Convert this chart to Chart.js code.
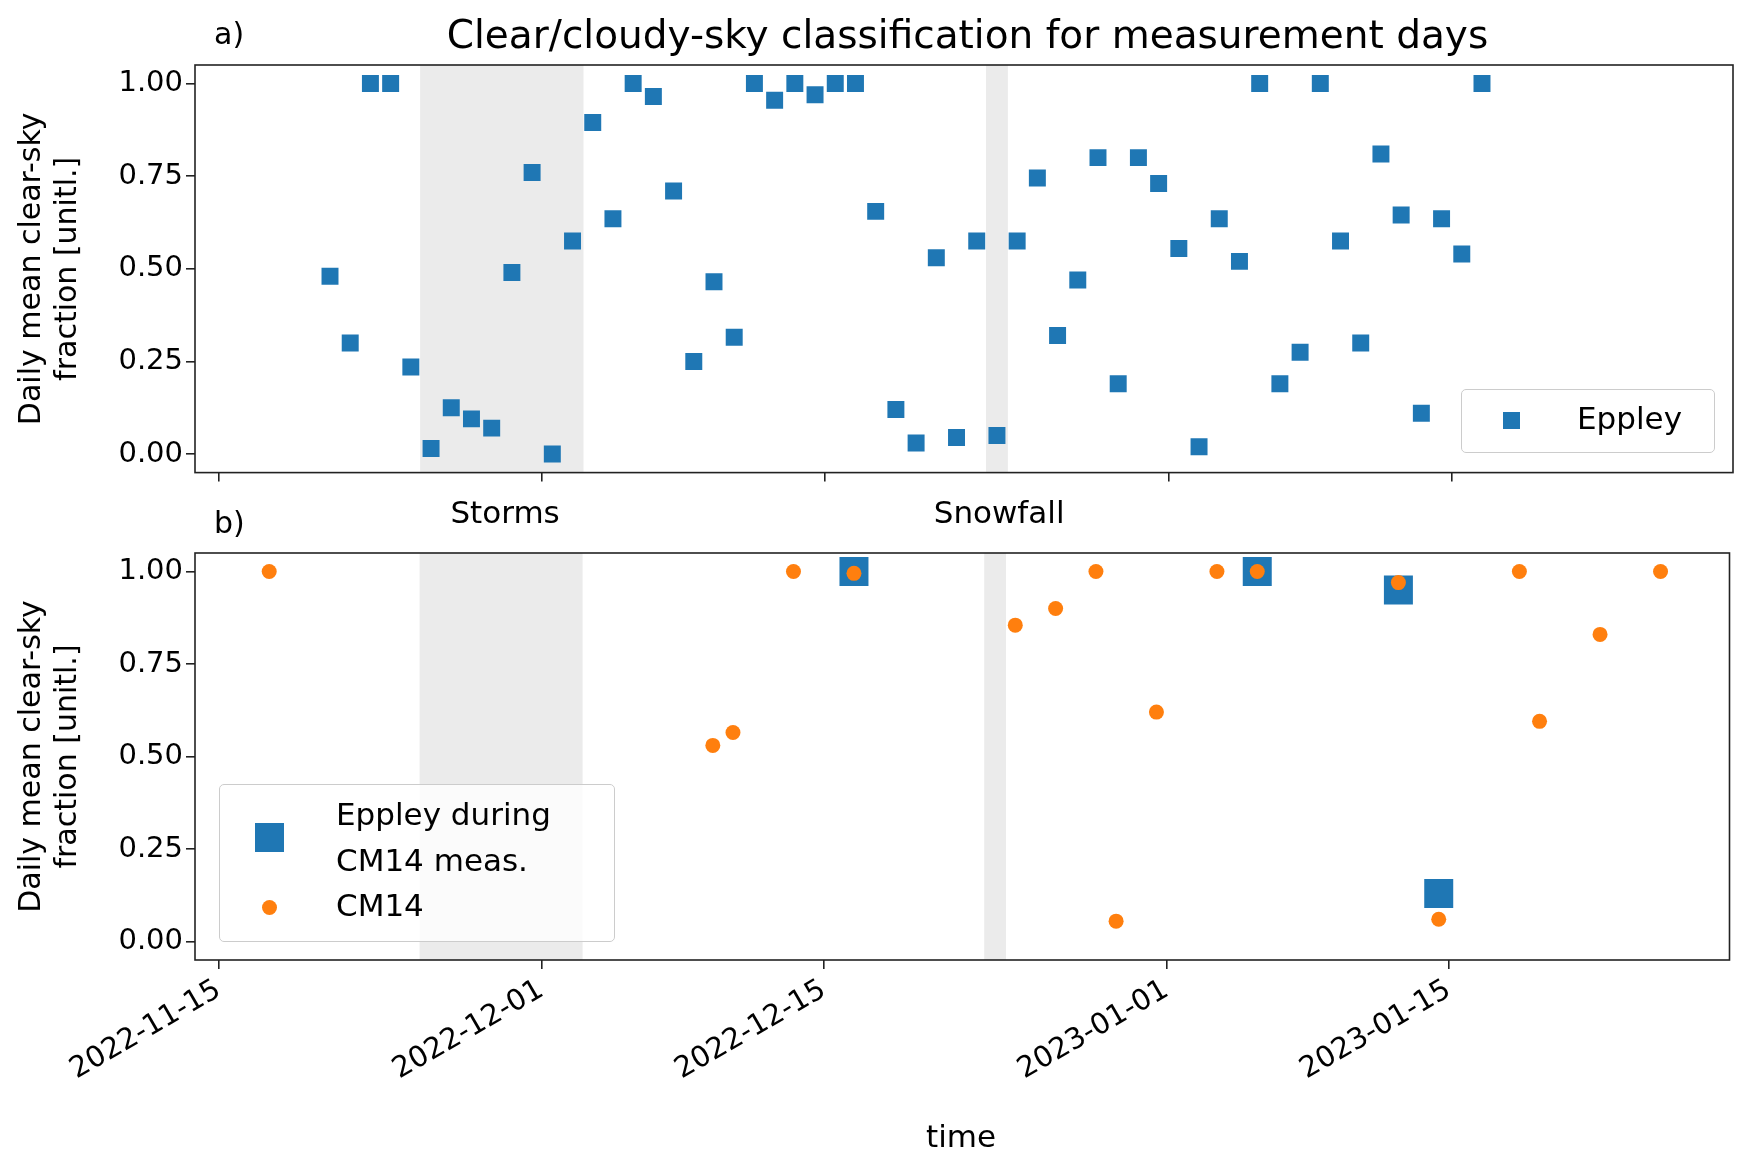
<!DOCTYPE html>
<html><head><meta charset="utf-8">
<script src="https://cdn.jsdelivr.net/npm/chart.js@4"></script>
<style>
body{margin:0;background:#fff;width:1750px;height:1175px;position:relative;font-family:"DejaVu Sans",sans-serif;overflow:hidden}
canvas{position:absolute;left:0}
.t{position:absolute;color:#000;white-space:nowrap}
</style></head><body>
<canvas id="c1" width="1750" height="493" style="top:0"></canvas>
<canvas id="c2" width="1750" height="695" style="top:480px"></canvas>
<div class="t" style="left:214px;top:16px;font-size:30px">a)</div>
<div class="t" style="left:214px;top:505px;font-size:30px">b)</div>
<div class="t" style="left:0;width:1935px;text-align:center;top:12px;font-size:39px">Clear/cloudy-sky classification for measurement days</div>
<div class="t" style="left:926px;top:1118px;font-size:31px">time</div>
<div style="position:absolute;left:1461px;top:389px;width:252px;height:62px;border:1px solid #ccc;border-radius:5px;background:rgba(255,255,255,0.8)"></div>
<div style="position:absolute;left:1503px;top:412px;width:17px;height:17px;background:#1f77b4"></div>
<div class="t" style="left:1577px;top:400px;font-size:31px">Eppley</div>
<div style="position:absolute;left:219px;top:784px;width:394px;height:156px;border:1px solid #ccc;border-radius:5px;background:rgba(255,255,255,0.8)"></div>
<div style="position:absolute;left:255px;top:823px;width:29px;height:29px;background:#1f77b4"></div>
<div class="t" style="left:336px;top:791px;font-size:31px;line-height:46px">Eppley during<br>CM14 meas.</div>
<div style="position:absolute;left:262px;top:900px;width:15px;height:15px;border-radius:50%;background:#ff7f0e"></div>
<div class="t" style="left:336px;top:887px;font-size:31px">CM14</div>
<script>
// days relative to 2022-11-15 00:00
const epoch = Date.UTC(2022,10,15);
const eppleyDates = ["2022-11-20","2022-11-21","2022-11-22","2022-11-23","2022-11-24","2022-11-25","2022-11-26","2022-11-27","2022-11-28","2022-11-29","2022-11-30","2022-12-01","2022-12-02","2022-12-03","2022-12-04","2022-12-05","2022-12-06","2022-12-07","2022-12-08","2022-12-09","2022-12-10","2022-12-11","2022-12-12","2022-12-13","2022-12-14","2022-12-15","2022-12-16","2022-12-17","2022-12-18","2022-12-19","2022-12-20","2022-12-21","2022-12-22","2022-12-23","2022-12-24","2022-12-25","2022-12-26","2022-12-27","2022-12-28","2022-12-29","2022-12-30","2022-12-31","2023-01-01","2023-01-02","2023-01-03","2023-01-04","2023-01-05","2023-01-06","2023-01-07","2023-01-08","2023-01-09","2023-01-10","2023-01-11","2023-01-12","2023-01-13","2023-01-14","2023-01-15","2023-01-16"];
const eppleyValues = [0.48,0.30,1.00,1.00,0.235,0.015,0.125,0.095,0.07,0.49,0.76,0.0,0.575,0.895,0.635,1.0,0.965,0.71,0.25,0.465,0.315,1.0,0.955,1.0,0.97,1.0,1.0,0.655,0.12,0.03,0.53,0.045,0.575,0.05,0.575,0.745,0.32,0.47,0.80,0.19,0.80,0.73,0.555,0.02,0.635,0.52,1.0,0.19,0.275,1.0,0.575,0.30,0.81,0.645,0.11,0.635,0.54,1.0];
const cm14Dates = ["2022-11-17","2022-12-09","2022-12-10","2022-12-13","2022-12-16","2022-12-24","2022-12-26","2022-12-28","2022-12-29","2022-12-31","2023-01-03","2023-01-05","2023-01-12","2023-01-14","2023-01-18","2023-01-19","2023-01-22","2023-01-25"];
const cm14Values = [1.0,0.53,0.565,1.0,0.995,0.855,0.90,1.0,0.055,0.62,1.0,1.0,0.97,0.06,1.0,0.595,0.83,1.0];
const eppleyCmDates = ["2022-12-16","2023-01-05","2023-01-12","2023-01-14"];
const eppleyCmValues = [1.0,1.0,0.95,0.13];
const xTickDates = ["2022-11-15","2022-12-01","2022-12-15","2023-01-01","2023-01-15"];
const yTicks = [0,0.25,0.5,0.75,1.0];
const spans = [{label:"Storms",from:"2022-11-24T23:00",to:"2022-12-03T01:00"},{label:"Snowfall",from:"2022-12-22T23:00",to:"2022-12-24T01:00"}];

const dayOf = s => (Date.parse(s.length===10 ? s+"T00:00Z" : s+"Z") - epoch)/86400000;
const noon = s => dayOf(s)+0.5;
const pts = (d,v) => d.map((s,i)=>({x:noon(s),y:v[i]}));
const xTicks = xTickDates.map(dayOf);
const fmt = v => { const i = xTicks.findIndex(t=>Math.abs(t-v)<1e-6); return i>=0 ? xTickDates[i] : ''; };

const font = {family:"DejaVu Sans", size:29};
const frame = {id:'frame', beforeDatasetsDraw(c,a,o){
  const {ctx,chartArea:ca,scales:{x}} = c;
  ctx.save(); ctx.fillStyle='#ebebeb';
  spans.forEach(s=>{const x0=x.getPixelForValue(dayOf(s.from)),x1=x.getPixelForValue(dayOf(s.to));ctx.fillRect(x0,ca.top,x1-x0,ca.bottom-ca.top);
    if(o.labels){ctx.fillStyle='#000';ctx.font='31px "DejaVu Sans"';ctx.textAlign='center';ctx.textBaseline='middle';ctx.fillText(s.label,(x0+x1)/2+4,ca.top-38);ctx.fillStyle='#ebebeb';}});
  ctx.restore();},
  afterDraw(c){const {ctx,chartArea:ca}=c;ctx.save();ctx.strokeStyle='#222';ctx.lineWidth=1.6;ctx.strokeRect(ca.left,ca.top,ca.right-ca.left,ca.bottom-ca.top);ctx.restore();}};

function opts(showLabels, xHeight, labels){
  return {responsive:false,animation:false,
    layout:{padding:{left:0,right:17,top:0,bottom:0}},
    plugins:{legend:{display:false},tooltip:{enabled:false},frame:{labels}},
    scales:{
      x:{type:'linear',min:-1.18,max:74.92,
        afterBuildTicks:s=>{s.ticks=xTicks.map(v=>({value:v}));},
        afterFit:s=>{s.height=xHeight;},
        grid:{drawOnChartArea:false,drawTicks:true,tickLength:9,color:'#222',lineWidth:1.6},
        border:{display:false},
        ticks:{display:true,font,color:'#000',maxRotation:30,minRotation:30,padding:4,callback:v=>showLabels?fmt(v):''}},
      y:{min:-0.05,max:1.05,
        afterBuildTicks:s=>{s.ticks=yTicks.map(v=>({value:v}));},
        afterFit:s=>{s.width=195;},
        grid:{drawOnChartArea:false,drawTicks:true,tickLength:9,color:'#222',lineWidth:1.6},
        border:{display:false},
        ticks:{font,color:'#000',padding:3,callback:v=>v.toFixed(2)},
        title:{display:true,text:["Daily mean clear-sky","fraction [unitl.]"],font:{family:"DejaVu Sans",size:30},color:'#000',padding:{top:14,bottom:0}}}
    }};
}
const o1 = opts(false,10,false); o1.layout.padding.top=65;
new Chart(document.getElementById('c1'),{type:'scatter',data:{datasets:[
  {data:pts(eppleyDates,eppleyValues),pointStyle:'rect',pointRadius:12,backgroundColor:'#1f77b4',borderWidth:0}]},
  options:o1,plugins:[frame]});
const o2 = opts(true,215,true); o2.layout.padding.top=73;
new Chart(document.getElementById('c2'),{type:'scatter',data:{datasets:[
  {data:pts(cm14Dates,cm14Values),pointStyle:'circle',pointRadius:7.5,backgroundColor:'#ff7f0e',borderWidth:0},
  {data:pts(eppleyCmDates,eppleyCmValues),pointStyle:'rect',pointRadius:20.5,backgroundColor:'#1f77b4',borderWidth:0}]},
  options:o2,plugins:[frame]});
</script></body></html>
